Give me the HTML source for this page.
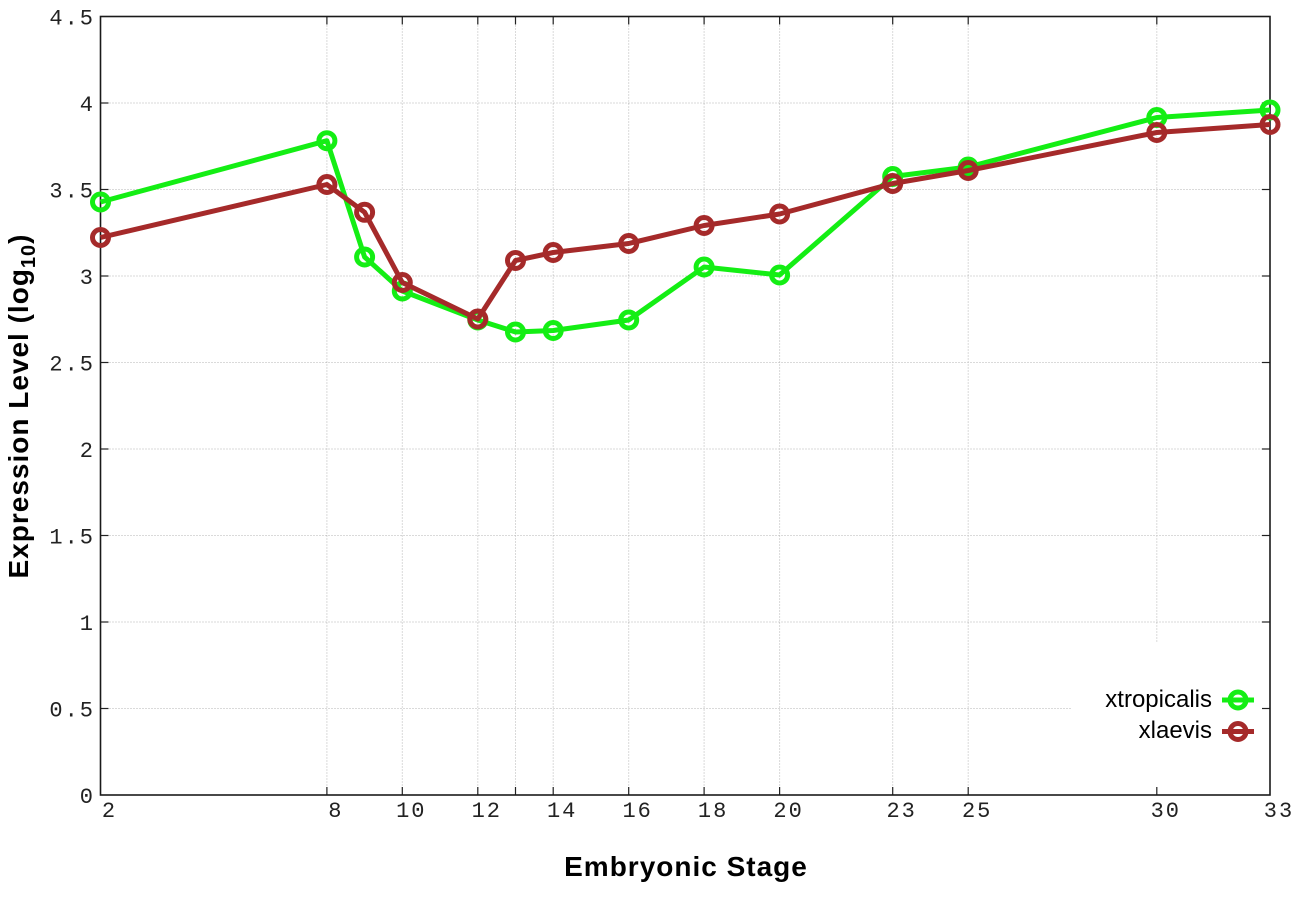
<!DOCTYPE html>
<html>
<head>
<meta charset="utf-8">
<style>
html,body{margin:0;padding:0;background:#fff;}
body{width:1296px;height:907px;overflow:hidden;}
svg{display:block;}
.tick{font-family:"Liberation Mono","DejaVu Sans Mono",monospace;font-size:22px;fill:#222;letter-spacing:2px;}
.lab{font-family:"Liberation Sans",Arial,sans-serif;font-weight:bold;font-size:28px;fill:#000;letter-spacing:1px;}
.leg{font-family:"Liberation Sans",Arial,sans-serif;font-size:24px;fill:#000;}
</style>
</head>
<body>
<svg width="1296" height="907" viewBox="0 0 1296 907" xmlns="http://www.w3.org/2000/svg">
<rect width="1296" height="907" fill="#fff"/>
<!-- grid -->
<g stroke="#b4b4b4" stroke-width="1" stroke-dasharray="1 2" fill="none">
  <line x1="100.5" y1="708.5" x2="1072" y2="708.5"/>
  <line x1="100.5" y1="622" x2="1270" y2="622"/>
  <line x1="100.5" y1="535.5" x2="1270" y2="535.5"/>
  <line x1="100.5" y1="449" x2="1270" y2="449"/>
  <line x1="100.5" y1="362.5" x2="1270" y2="362.5"/>
  <line x1="100.5" y1="276" x2="1270" y2="276"/>
  <line x1="100.5" y1="189.5" x2="1270" y2="189.5"/>
  <line x1="100.5" y1="103" x2="1270" y2="103"/>
  <line x1="326.9" y1="16.5" x2="326.9" y2="795"/>
  <line x1="402.3" y1="16.5" x2="402.3" y2="795"/>
  <line x1="477.8" y1="16.5" x2="477.8" y2="795"/>
  <line x1="515.5" y1="16.5" x2="515.5" y2="795"/>
  <line x1="553.2" y1="16.5" x2="553.2" y2="795"/>
  <line x1="628.7" y1="16.5" x2="628.7" y2="795"/>
  <line x1="704.1" y1="16.5" x2="704.1" y2="795"/>
  <line x1="779.6" y1="16.5" x2="779.6" y2="795"/>
  <line x1="892.7" y1="16.5" x2="892.7" y2="795"/>
  <line x1="968.2" y1="16.5" x2="968.2" y2="795"/>
  <line x1="1156.8" y1="16.5" x2="1156.8" y2="642"/>
</g>
<!-- ticks -->
<g stroke="#222" stroke-width="1.2">
  <!-- bottom/top x ticks -->
  <line x1="326.9" y1="795" x2="326.9" y2="787"/><line x1="326.9" y1="16.5" x2="326.9" y2="24.5"/>
  <line x1="402.3" y1="795" x2="402.3" y2="787"/><line x1="402.3" y1="16.5" x2="402.3" y2="24.5"/>
  <line x1="477.8" y1="795" x2="477.8" y2="787"/><line x1="477.8" y1="16.5" x2="477.8" y2="24.5"/>
  <line x1="515.5" y1="795" x2="515.5" y2="787"/><line x1="515.5" y1="16.5" x2="515.5" y2="24.5"/>
  <line x1="553.2" y1="795" x2="553.2" y2="787"/><line x1="553.2" y1="16.5" x2="553.2" y2="24.5"/>
  <line x1="628.7" y1="795" x2="628.7" y2="787"/><line x1="628.7" y1="16.5" x2="628.7" y2="24.5"/>
  <line x1="704.1" y1="795" x2="704.1" y2="787"/><line x1="704.1" y1="16.5" x2="704.1" y2="24.5"/>
  <line x1="779.6" y1="795" x2="779.6" y2="787"/><line x1="779.6" y1="16.5" x2="779.6" y2="24.5"/>
  <line x1="892.7" y1="795" x2="892.7" y2="787"/><line x1="892.7" y1="16.5" x2="892.7" y2="24.5"/>
  <line x1="968.2" y1="795" x2="968.2" y2="787"/><line x1="968.2" y1="16.5" x2="968.2" y2="24.5"/>
  <line x1="1156.8" y1="795" x2="1156.8" y2="787"/><line x1="1156.8" y1="16.5" x2="1156.8" y2="24.5"/>
  <!-- left/right y ticks -->
  <line x1="100.5" y1="708.5" x2="108.5" y2="708.5"/><line x1="1270" y1="708.5" x2="1262" y2="708.5"/>
  <line x1="100.5" y1="622" x2="108.5" y2="622"/><line x1="1270" y1="622" x2="1262" y2="622"/>
  <line x1="100.5" y1="535.5" x2="108.5" y2="535.5"/><line x1="1270" y1="535.5" x2="1262" y2="535.5"/>
  <line x1="100.5" y1="449" x2="108.5" y2="449"/><line x1="1270" y1="449" x2="1262" y2="449"/>
  <line x1="100.5" y1="362.5" x2="108.5" y2="362.5"/><line x1="1270" y1="362.5" x2="1262" y2="362.5"/>
  <line x1="100.5" y1="276" x2="108.5" y2="276"/><line x1="1270" y1="276" x2="1262" y2="276"/>
  <line x1="100.5" y1="189.5" x2="108.5" y2="189.5"/><line x1="1270" y1="189.5" x2="1262" y2="189.5"/>
  <line x1="100.5" y1="103" x2="108.5" y2="103"/><line x1="1270" y1="103" x2="1262" y2="103"/>
</g>
<!-- border -->
<rect x="100.5" y="16.5" width="1169.5" height="778.5" fill="none" stroke="#1a1a1a" stroke-width="1.6"/>

<!-- y tick labels -->
<g class="tick" text-anchor="end">
  <text x="95" y="24.5">4.5</text>
  <text x="95" y="111">4</text>
  <text x="95" y="197.5">3.5</text>
  <text x="95" y="284">3</text>
  <text x="95" y="370.5">2.5</text>
  <text x="95" y="457">2</text>
  <text x="95" y="543.5">1.5</text>
  <text x="95" y="630">1</text>
  <text x="95" y="716.5">0.5</text>
  <text x="95" y="803">0</text>
</g>
<!-- x tick labels -->
<g class="tick" text-anchor="middle">
  <text x="109.5" y="817">2</text>
  <text x="335.9" y="817">8</text>
  <text x="411.3" y="817">10</text>
  <text x="486.8" y="817">12</text>
  <text x="562.2" y="817">14</text>
  <text x="637.7" y="817">16</text>
  <text x="713.1" y="817">18</text>
  <text x="788.6" y="817">20</text>
  <text x="901.7" y="817">23</text>
  <text x="977.2" y="817">25</text>
  <text x="1165.8" y="817">30</text>
  <text x="1279" y="817">33</text>
</g>

<!-- axis labels -->
<text class="lab" x="686" y="876" text-anchor="middle">Embryonic Stage</text>
<text class="lab" transform="translate(28,406) rotate(-90)" text-anchor="middle">Expression Level (log<tspan font-size="20" dy="7">10</tspan><tspan dy="-7">)</tspan></text>

<!-- green series -->
<g fill="none" stroke="#14ee14" stroke-width="5" stroke-linejoin="round">
  <polyline points="100.5,202 326.9,140.7 364.6,257 402.3,291 477.8,320 515.5,332 553.2,330.5 628.7,320 704.1,267 779.6,275 892.7,176.5 968.2,167 1156.8,117.5 1270,110"/>
  <circle cx="100.5" cy="202" r="8"/>
  <circle cx="326.9" cy="140.7" r="8"/>
  <circle cx="364.6" cy="257" r="8"/>
  <circle cx="402.3" cy="291" r="8"/>
  <circle cx="477.8" cy="320" r="8"/>
  <circle cx="515.5" cy="332" r="8"/>
  <circle cx="553.2" cy="330.5" r="8"/>
  <circle cx="628.7" cy="320" r="8"/>
  <circle cx="704.1" cy="267" r="8"/>
  <circle cx="779.6" cy="275" r="8"/>
  <circle cx="892.7" cy="176.5" r="8"/>
  <circle cx="968.2" cy="167" r="8"/>
  <circle cx="1156.8" cy="117.5" r="8"/>
  <circle cx="1270" cy="110" r="8"/>
</g>
<!-- red series -->
<g fill="none" stroke="#a52a2a" stroke-width="5" stroke-linejoin="round">
  <polyline points="100.5,237.5 326.9,184.5 364.6,212.3 402.3,282.5 477.8,319 515.5,260.5 553.2,252.5 628.7,243.5 704.1,225.5 779.6,214 892.7,183.5 968.2,170.5 1156.8,132.5 1270,124.5"/>
  <circle cx="100.5" cy="237.5" r="8"/>
  <circle cx="326.9" cy="184.5" r="8"/>
  <circle cx="364.6" cy="212.3" r="8"/>
  <circle cx="402.3" cy="282.5" r="8"/>
  <circle cx="477.8" cy="319" r="8"/>
  <circle cx="515.5" cy="260.5" r="8"/>
  <circle cx="553.2" cy="252.5" r="8"/>
  <circle cx="628.7" cy="243.5" r="8"/>
  <circle cx="704.1" cy="225.5" r="8"/>
  <circle cx="779.6" cy="214" r="8"/>
  <circle cx="892.7" cy="183.5" r="8"/>
  <circle cx="968.2" cy="170.5" r="8"/>
  <circle cx="1156.8" cy="132.5" r="8"/>
  <circle cx="1270" cy="124.5" r="8"/>
</g>

<!-- legend -->
<text class="leg" x="1212" y="707" text-anchor="end">xtropicalis</text>
<text class="leg" x="1212" y="738" text-anchor="end">xlaevis</text>
<g fill="none" stroke-width="5">
  <line x1="1222" y1="700" x2="1254" y2="700" stroke="#14ee14"/>
  <circle cx="1238" cy="700" r="8" stroke="#14ee14"/>
  <line x1="1222" y1="731.5" x2="1254" y2="731.5" stroke="#a52a2a"/>
  <circle cx="1238" cy="731.5" r="8" stroke="#a52a2a"/>
</g>
</svg>
</body>
</html>
